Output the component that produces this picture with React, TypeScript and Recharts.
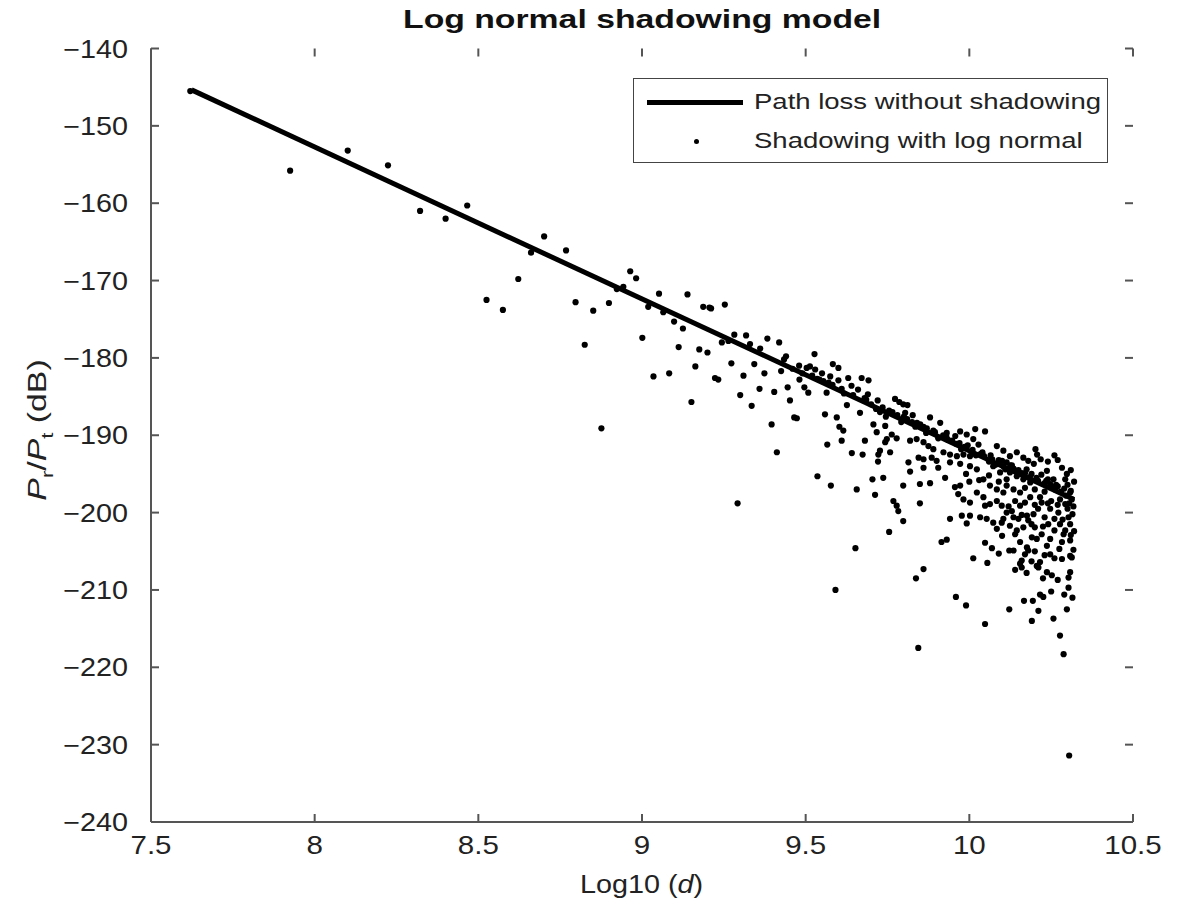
import { Scatter, ScatterChart, XAxis, YAxis } from "recharts"

const xTicks = [7.5, 8, 8.5, 9, 9.5, 10, 10.5]
const yTicks = [-240, -230, -220, -210, -200, -190, -180, -170, -160, -150, -140]

// path loss without shadowing (straight line end points)
const pathLossLogD = [7.624, 10.32]
const pathLossDb = [-145.35, -198.3]

// shadowing with log normal, [log10(d), dB]
const shadowingPoints: [number, number][] = [
  [7.62, -145.5], [7.925, -155.8], [8.101, -153.2], [8.224, -155.1], [8.322, -161.0],
  [8.4, -162.0], [8.466, -160.3], [8.525, -172.5], [8.575, -173.8], [8.622, -169.8],
  [8.661, -166.4], [8.701, -164.3], [8.768, -166.1], [8.797, -172.8], [8.851, -173.9],
  [8.825, -178.3], [8.899, -172.9], [8.876, -189.1], [8.923, -171.1], [8.943, -170.8],
  [8.964, -168.8], [8.982, -169.7], [9.001, -177.4], [9.019, -173.4], [9.052, -171.7],
  [9.035, -182.4], [9.065, -174.1], [9.083, -182.0], [9.098, -175.3], [9.125, -176.2],
  [9.139, -171.8], [9.112, -178.6], [9.151, -185.7], [9.163, -181.1], [9.175, -178.9],
  [9.187, -173.4], [9.2, -179.3], [9.206, -173.5], [9.211, -173.6], [9.253, -173.1],
  [9.223, -182.6], [9.233, -182.8], [9.244, -178.0], [9.264, -177.8], [9.273, -180.7],
  [9.282, -177.0], [9.318, -177.1], [9.3, -184.8], [9.31, -182.3], [9.292, -198.8],
  [9.33, -178.2], [9.335, -186.2], [9.343, -180.8], [9.359, -184.0], [9.361, -178.8],
  [9.374, -182.0], [9.383, -177.5], [9.396, -188.6], [9.404, -184.4], [9.412, -192.2],
  [9.419, -178.0], [9.425, -181.7], [9.434, -180.2], [9.445, -183.8], [9.452, -185.5],
  [9.465, -187.7], [9.473, -187.8], [9.481, -182.8], [9.496, -183.8], [9.503, -181.3],
  [9.513, -181.1], [9.529, -181.5], [9.527, -179.5], [9.508, -184.5], [9.536, -195.3],
  [9.542, -182.8], [9.554, -183.0], [9.559, -187.3], [9.566, -191.2], [9.577, -196.5],
  [9.564, -184.5], [9.582, -183.5], [9.583, -180.8], [9.6, -181.3], [9.595, -187.7],
  [9.603, -188.9], [9.615, -189.4], [9.61, -190.7], [9.617, -184.6], [9.63, -182.6],
  [9.626, -186.1], [9.641, -192.3], [9.656, -197.0], [9.666, -187.1], [9.671, -182.6],
  [9.692, -182.9], [9.674, -192.5], [9.681, -190.7], [9.685, -185.4], [9.7, -186.0],
  [9.715, -186.6], [9.727, -187.0], [9.704, -195.7], [9.712, -197.7], [9.717, -189.6],
  [9.707, -188.6], [9.722, -192.5], [9.721, -193.4], [9.652, -204.6], [9.591, -210.0],
  [9.773, -185.3], [9.786, -185.7], [9.798, -186.0], [9.811, -186.1], [9.804, -187.1],
  [9.827, -187.4], [9.88, -187.7], [9.911, -188.4], [9.743, -188.8], [9.763, -189.9],
  [9.778, -190.4], [9.748, -190.5], [9.743, -190.9], [9.819, -190.7], [9.839, -190.5],
  [9.86, -190.9], [9.875, -191.4], [9.89, -191.8], [9.931, -189.7], [9.957, -190.1],
  [9.972, -189.5], [9.992, -189.9], [10.018, -189.2], [10.048, -189.5], [10.012, -190.5],
  [10.028, -191.2], [10.084, -191.4], [10.104, -192.0], [9.727, -192.0], [9.758, -192.2],
  [9.845, -192.9], [9.86, -193.1], [9.885, -192.9], [9.9, -193.3], [9.921, -192.2],
  [9.941, -192.5], [9.962, -192.7], [9.982, -192.5], [10.002, -192.7], [9.814, -193.5],
  [9.819, -194.7], [9.86, -194.2], [9.905, -194.2], [9.926, -195.5], [9.941, -193.5],
  [9.972, -193.7], [10.002, -194.0], [10.023, -194.4], [9.737, -195.5], [9.798, -196.5],
  [9.849, -196.3], [9.88, -196.2], [9.956, -196.7], [9.972, -196.5], [9.966, -197.6],
  [10.023, -197.4], [10.043, -198.0], [10.048, -199.1], [10.063, -198.9], [10.084, -198.5],
  [10.099, -199.1], [9.768, -198.5], [9.778, -199.1], [9.783, -199.8], [9.849, -198.8],
  [9.798, -201.1], [9.941, -200.8], [9.977, -200.4], [10.002, -200.4], [10.033, -200.6],
  [9.982, -198.3], [10.002, -198.7], [10.043, -195.7], [10.063, -196.5], [10.084, -197.0],
  [10.104, -197.4], [10.114, -195.7], [10.094, -194.8], [10.073, -194.0], [10.114, -193.5],
  [10.053, -200.8], [10.073, -201.3], [10.104, -200.8], [9.755, -202.5], [9.992, -201.4],
  [9.915, -203.8], [9.931, -203.5], [10.048, -203.9], [10.069, -204.6], [10.012, -205.9],
  [10.055, -206.5], [9.86, -207.3], [9.837, -208.5], [9.959, -210.9], [9.99, -212.0],
  [10.048, -214.4], [9.844, -217.5], [10.084, -202.1], [10.122, -204.9], [10.122, -212.5],
  [10.202, -191.8], [10.207, -192.5], [10.218, -193.1], [10.197, -193.7], [10.283, -194.2],
  [10.298, -195.0], [10.293, -195.7], [10.237, -194.6], [10.257, -195.7], [10.262, -197.0],
  [10.247, -196.3], [10.308, -197.4], [10.313, -198.3], [10.216, -198.0], [10.221, -198.7],
  [10.186, -198.0], [10.17, -198.7], [10.155, -199.1], [10.124, -192.7], [10.145, -192.2],
  [10.165, -192.9], [10.18, -193.3], [10.104, -194.0], [10.124, -194.8], [10.145, -195.3],
  [10.165, -195.7], [10.186, -196.1], [10.114, -196.5], [10.135, -197.0], [10.155, -197.4],
  [10.277, -198.3], [10.293, -198.9], [10.247, -199.5], [10.272, -200.0], [10.303, -200.6],
  [10.196, -200.2], [10.176, -200.4], [10.114, -200.0], [10.135, -200.6], [10.099, -201.3],
  [10.124, -201.7], [10.165, -201.9], [10.145, -202.3], [10.14, -202.8], [10.191, -203.2],
  [10.206, -203.4], [10.221, -202.8], [10.247, -203.4], [10.241, -201.5], [10.277, -201.5],
  [10.308, -201.5], [10.293, -202.3], [10.283, -203.8], [10.308, -203.6], [10.288, -202.8],
  [10.155, -203.8], [10.176, -204.5], [10.135, -204.9], [10.17, -205.4], [10.18, -204.9],
  [10.237, -204.3], [10.247, -205.4], [10.283, -206.0], [10.308, -205.6], [10.313, -205.8],
  [10.16, -206.2], [10.155, -206.6], [10.14, -207.4], [10.16, -207.1], [10.206, -206.9],
  [10.216, -206.4], [10.211, -207.1], [10.237, -207.7], [10.252, -208.1], [10.308, -207.7],
  [10.303, -208.4], [10.303, -209.7], [10.216, -210.6], [10.226, -210.9], [10.167, -211.4],
  [10.194, -211.4], [10.211, -212.7], [10.298, -212.5], [10.191, -214.0], [10.257, -213.7],
  [10.277, -215.9], [10.288, -218.3], [10.305, -231.4],
  [9.745, -187.6], [9.792, -188.3], [9.835, -188.9], [9.868, -189.7], [9.905, -190.4],
  [9.948, -190.7], [9.985, -191.5], [10.035, -192.4], [10.06, -193.4], [10.09, -193.2],
  [10.135, -194.3], [10.16, -194.9], [10.19, -195.0], [10.21, -195.9], [10.23, -196.2],
  [10.265, -196.4], [10.28, -197.3], [10.295, -197.8], [10.318, -199.2], [10.3, -196.4],
  [10.27, -199.0], [10.25, -198.5], [10.23, -197.3], [10.2, -197.0], [10.17, -196.8],
  [10.14, -198.5], [10.12, -199.2], [10.09, -196.0], [10.06, -195.2], [10.03, -195.8],
  [10.0, -196.0], [9.99, -195.0], [10.32, -202.4], [10.318, -204.8], [10.26, -202.3],
  [10.23, -200.6], [10.21, -199.5], [10.19, -201.5], [10.15, -200.8], [10.32, -196.0],
  [10.31, -194.5], [10.27, -193.2], [10.26, -192.6], [10.24, -193.4],
  [9.755, -186.8], [9.78, -187.4], [9.81, -187.9], [9.825, -188.3], [9.85, -188.6],
  [9.87, -189.1], [9.895, -189.6], [9.92, -190.0], [9.935, -190.6], [9.96, -191.1],
  [9.975, -191.8], [10.01, -191.9], [10.02, -192.6], [10.045, -192.7], [10.07, -193.1],
  [10.08, -193.8], [10.11, -194.4], [10.125, -193.9], [10.15, -194.5], [10.175, -194.4],
  [10.185, -195.4], [10.22, -195.1], [10.24, -195.7], [10.255, -196.8], [10.29, -196.9],
  [10.305, -198.8], [10.13, -199.8], [10.16, -200.3], [10.18, -201.0], [10.2, -201.9],
  [10.225, -201.8], [10.26, -200.8], [10.285, -200.9], [10.3, -199.5], [10.315, -200.2],
  [10.31, -202.9], [10.275, -204.7], [10.26, -205.9], [10.23, -205.5], [10.2, -205.0],
  [10.19, -206.3], [10.175, -207.8], [10.225, -208.5], [10.27, -208.7], [10.29, -210.6],
  [10.25, -210.2], [10.315, -211.0], [10.1, -203.0], [10.09, -205.3], [10.2, -199.0],
  [10.24, -198.8], [9.52, -182.3], [9.55, -182.0], [9.575, -182.4], [9.6, -182.9],
  [9.64, -183.6], [9.66, -184.1], [9.69, -184.7], [9.72, -185.5], [9.48, -181.0],
  [9.44, -179.8],
  [9.46, -181.4], [9.49, -182.0], [9.535, -182.7], [9.57, -183.2], [9.61, -184.0],
  [9.645, -184.8], [9.68, -185.2], [9.735, -186.4], [9.765, -187.0], [9.8, -187.6],
  [9.84, -188.4], [9.86, -188.9], [9.89, -189.4], [9.93, -190.2], [9.97, -191.0],
  [9.995, -191.3], [10.04, -192.2], [10.065, -192.6], [10.1, -193.3], [10.13, -193.9],
  [10.17, -194.9], [10.205, -195.5], [10.235, -195.9], [10.27, -196.6], [10.31, -197.2],
]

const FONT = '"Liberation Sans", Arial, Helvetica, sans-serif'
const AXIS = "#555"
const TICK_LEN = 8
// plot box size set by the chart margins below
const PLOT_W = 982
const PLOT_H = 773.5

const lineData = pathLossLogD.map((x, i) => ({ x, y: pathLossDb[i] }))
const scatterData = shadowingPoints.map(([x, y]) => ({ x, y }))

const fmt = (v: number) => (v < 0 ? `\u2212${Math.abs(v)}` : `${v}`)

// bottom axis: label sits 14px below the axis line; tick marks point inward on bottom and top
function XTick({ x, y, payload }: any) {
  const axisY = y - 14
  const topY = axisY - PLOT_H
  return (
    <g>
      <line x1={x} x2={x} y1={axisY} y2={axisY - TICK_LEN} stroke={AXIS} strokeWidth={2} />
      <line x1={x} x2={x} y1={topY} y2={topY + TICK_LEN} stroke={AXIS} strokeWidth={2} />
      <text
        transform={`translate(${x},${y}) scale(1.18,1)`}
        textAnchor="middle"
        dy="0.72em"
        fontSize={25}
        fill="#222"
        fontFamily={FONT}
      >
        {fmt(payload.value)}
      </text>
    </g>
  )
}

// left axis: label ends 23px left of the axis line; tick marks point inward on left and right
function YTick({ x, y, payload }: any) {
  const axisX = x + 23
  const rightX = axisX + PLOT_W
  return (
    <g>
      <line x1={axisX} x2={axisX + TICK_LEN} y1={y} y2={y} stroke={AXIS} strokeWidth={2} />
      <line x1={rightX} x2={rightX - TICK_LEN} y1={y} y2={y} stroke={AXIS} strokeWidth={2} />
      <text
        transform={`translate(${x},${y}) scale(1.15,1)`}
        textAnchor="end"
        dy="0.36em"
        fontSize={25}
        fill="#222"
        fontFamily={FONT}
      >
        {fmt(payload.value)}
      </text>
    </g>
  )
}

const noShape = () => <g />

const Dot = (props: any) => <circle cx={props.cx} cy={props.cy} r={3.1} fill="#000" />

export default function App() {
  return (
    <div style={{ position: "absolute", left: 0, top: 0, width: 1181, height: 907, background: "#fff", fontFamily: FONT }}>
      <ScatterChart
        width={1181}
        height={907}
        margin={{ top: 48.5, right: 48, bottom: 45, left: 71 }}
      >
        <XAxis
          type="number"
          dataKey="x"
          domain={[7.5, 10.5]}
          ticks={xTicks}
          allowDataOverflow
          height={40}
          tickSize={0}
          tickMargin={14}
          tickLine={false}
          tick={XTick}
          stroke={AXIS}
          strokeWidth={2}
        />
        <XAxis
          xAxisId="top"
          orientation="top"
          type="number"
          dataKey="x"
          domain={[7.5, 10.5]}
          ticks={xTicks}
          allowDataOverflow
          height={0}
          tickLine={false}
          tick={false}
          stroke={AXIS}
          strokeWidth={2}
        />
        <YAxis
          type="number"
          dataKey="y"
          domain={[-240, -140]}
          ticks={yTicks}
          allowDataOverflow
          width={80}
          tickSize={0}
          tickMargin={23}
          tickLine={false}
          tick={YTick}
          stroke={AXIS}
          strokeWidth={2}
        />
        <YAxis
          yAxisId="right"
          orientation="right"
          type="number"
          dataKey="y"
          domain={[-240, -140]}
          ticks={yTicks}
          allowDataOverflow
          width={0}
          tickLine={false}
          tick={false}
          stroke={AXIS}
          strokeWidth={2}
        />
        <Scatter
          data={lineData}
          line={{ stroke: "#000", strokeWidth: 5 }}
          shape={noShape}
          fill="#000"
          isAnimationActive={false}
        />
        <Scatter data={scatterData} shape={Dot} fill="#000" isAnimationActive={false} />
      </ScatterChart>

      <div
        style={{
          position: "absolute",
          left: 0,
          width: 1284,
          top: 5,
          textAlign: "center",
          fontWeight: "bold",
          fontSize: 25,
          color: "#111",
        }}
      >
        <span style={{ display: "inline-block", transform: "scaleX(1.35)" }}>Log normal shadowing model</span>
      </div>

      <div
        style={{
          position: "absolute",
          left: 633,
          top: 78,
          width: 475,
          height: 85,
          border: "1.5px solid #444",
          background: "#fff",
          boxSizing: "border-box",
        }}
      >
        <div style={{ position: "absolute", left: 13, top: 21, width: 96, height: 5, background: "#000" }} />
        <div style={{ position: "absolute", left: 60, top: 60, width: 5, height: 5, borderRadius: "50%", background: "#000" }} />
        <div style={{ position: "absolute", left: 120, top: 10, fontSize: 22, color: "#222", whiteSpace: "nowrap" }}>
          <span style={{ display: "inline-block", transform: "scaleX(1.25)", transformOrigin: "left" }}>
            Path loss without shadowing
          </span>
        </div>
        <div style={{ position: "absolute", left: 120, top: 49, fontSize: 22, color: "#222", whiteSpace: "nowrap" }}>
          <span style={{ display: "inline-block", transform: "scaleX(1.25)", transformOrigin: "left" }}>
            Shadowing with log normal
          </span>
        </div>
      </div>

      <div
        style={{
          position: "absolute",
          left: 0,
          width: 1284,
          top: 870,
          textAlign: "center",
          fontSize: 25,
          color: "#222",
        }}
      >
        <span style={{ display: "inline-block", transform: "scaleX(1.15)" }}>
          Log10 (<i>d</i>)
        </span>
      </div>

      <div
        style={{
          position: "absolute",
          left: 40,
          top: 430,
          transform: "translate(-50%, -50%) rotate(-90deg) scaleX(1.3)",
          fontSize: 26,
          color: "#222",
          whiteSpace: "nowrap",
        }}
      >
        <i>P</i>
        <sub style={{ fontSize: 17 }}>r</sub>/<i>P</i>
        <sub style={{ fontSize: 17 }}>t</sub> (dB)
      </div>
    </div>
  )
}
